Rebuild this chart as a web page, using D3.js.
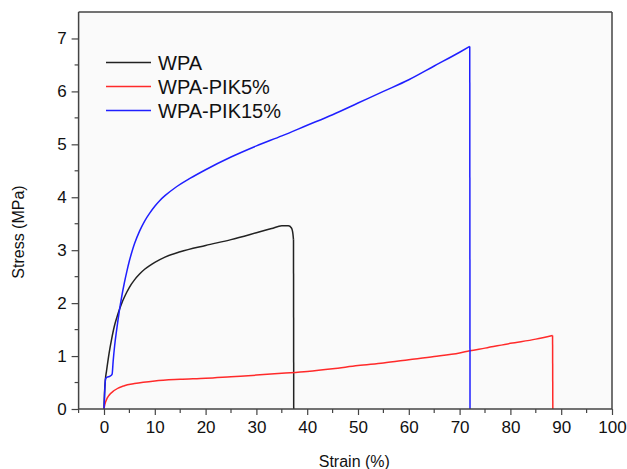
<!DOCTYPE html>
<html>
<head>
<meta charset="utf-8">
<script src="https://cdn.jsdelivr.net/npm/d3@7"></script>
<style>
  html, body { margin: 0; padding: 0; background: #fff; }
  svg text { font-family: "Liberation Sans", Arial, sans-serif; fill: #111; }
</style>
</head>
<body>
<svg id="chart" width="627" height="469"></svg>
<script>
// Stress–strain curves, strain in %, stress in MPa
const wpaStrain = [0, 0.1, 0.3, 0.5, 1.0, 1.5, 2.0, 2.5, 3.0, 3.5, 4.0, 4.5, 5.0, 6.0, 7.0, 8.0, 9.0, 10, 12, 15, 20, 25, 30, 33, 35, 36.3, 36.9, 37.2, 37.3, 37.35];
const wpaStress = [0, 0.3, 0.58, 0.72, 1.05, 1.32, 1.55, 1.72, 1.87, 2.0, 2.11, 2.21, 2.3, 2.44, 2.55, 2.64, 2.71, 2.77, 2.87, 2.97, 3.09, 3.2, 3.33, 3.41, 3.46, 3.46, 3.42, 3.3, 3.2, 0];

const pik5Strain = [0, 0.15, 0.3, 0.6, 1.0, 2.0, 4.0, 6.0, 10, 15, 20, 25, 30, 35, 40, 45, 50, 55, 60, 65, 70, 72, 75, 80, 85, 88.3, 88.35];
const pik5Stress = [0, 0.08, 0.13, 0.2, 0.26, 0.35, 0.44, 0.48, 0.53, 0.56, 0.58, 0.61, 0.64, 0.675, 0.71, 0.76, 0.82, 0.87, 0.93, 0.99, 1.06, 1.1, 1.15, 1.24, 1.32, 1.39, 0];

const pik15Strain = [0, 0.15, 0.3, 0.6, 1.2, 1.6, 1.8, 2.1, 2.5, 3.0, 3.5, 4.0, 4.5, 5.0, 5.5, 6, 7, 8, 9, 10, 11, 12, 14, 17, 20, 25, 30, 35, 40, 45, 50, 55, 60, 65, 70, 72, 72.05];
const pik15Stress = [0, 0.35, 0.57, 0.6, 0.62, 0.66, 0.9, 1.2, 1.5, 1.84, 2.13, 2.38, 2.6, 2.8, 2.97, 3.12, 3.36, 3.55, 3.7, 3.83, 3.94, 4.03, 4.18, 4.36, 4.52, 4.76, 4.97, 5.16, 5.36, 5.56, 5.78, 6.0, 6.22, 6.48, 6.74, 6.85, 0];

const seriesNames = ["WPA", "WPA-PIK5%", "WPA-PIK15%"];
const seriesColors = ["#222222", "#ff2a2a", "#1f1fff"];

const xTicks = [0, 10, 20, 30, 40, 50, 60, 70, 80, 90, 100];
const yTicks = [0, 1, 2, 3, 4, 5, 6, 7];

const svg = d3.select("#chart");
const plotLeft = 78.6, plotRight = 612, plotTop = 12, plotBottom = 409;

const x = d3.scaleLinear().domain([-5, 100]).range([plotLeft, plotRight]);
const y = d3.scaleLinear().domain([0, 7.5]).range([plotBottom, plotTop]);

// plot area background
svg.append("rect")
  .attr("x", plotLeft).attr("y", plotTop)
  .attr("width", plotRight - plotLeft).attr("height", plotBottom - plotTop)
  .attr("fill", "#fafafa");

// curves
const series = [
  { s: wpaStrain, t: wpaStress },
  { s: pik5Strain, t: pik5Stress },
  { s: pik15Strain, t: pik15Stress }
];
const line = d3.line().x(d => x(d[0])).y(d => y(d[1])).curve(d3.curveMonotoneX);
const lineLinear = d3.line().x(d => x(d[0])).y(d => y(d[1]));

series.forEach((d, i) => {
  const pts = d.s.map((v, k) => [v, d.t[k]]);
  // smooth body, straight vertical break at the end
  const body = pts.slice(0, -1);
  const tail = pts.slice(-2);
  svg.append("path").attr("d", line(body))
    .attr("fill", "none").attr("stroke", seriesColors[i]).attr("stroke-width", 1.5);
  svg.append("path").attr("d", lineLinear(tail))
    .attr("fill", "none").attr("stroke", seriesColors[i]).attr("stroke-width", 1.5);
});

// frame: top and right edges
svg.append("line").attr("x1", plotLeft).attr("x2", plotRight).attr("y1", plotTop).attr("y2", plotTop)
  .attr("stroke", "#444").attr("stroke-width", 1.5);
svg.append("line").attr("x1", plotRight).attr("x2", plotRight).attr("y1", plotTop).attr("y2", plotBottom)
  .attr("stroke", "#444").attr("stroke-width", 1.5);

// axes
const xMinor = d3.range(-5, 100.1, 5).filter(v => v % 10 !== 0);
const yMinor = d3.range(0.5, 7.5, 1);

const xAxis = d3.axisBottom(x).tickValues(xTicks).tickSize(6).tickPadding(6).tickFormat(d3.format("d"));
const xg = svg.append("g").attr("transform", `translate(0,${plotBottom})`).call(xAxis);
xg.select(".domain").attr("stroke", "#444").attr("stroke-width", 1.5).attr("d", `M${plotLeft},0H${plotRight}`);
xg.selectAll(".tick line").attr("stroke", "#444").attr("stroke-width", 1.2);
xg.selectAll("text").attr("font-size", 17).attr("fill", "#111");
xg.selectAll(".minor").data(xMinor).enter().append("line")
  .attr("x1", d => x(d)).attr("x2", d => x(d)).attr("y1", 0).attr("y2", 4)
  .attr("stroke", "#444").attr("stroke-width", 1.2);

const yAxis = d3.axisLeft(y).tickValues(yTicks).tickSize(7).tickPadding(5).tickFormat(d3.format("d"));
const yg = svg.append("g").attr("transform", `translate(${plotLeft},0)`).call(yAxis);
yg.select(".domain").attr("stroke", "#444").attr("stroke-width", 1.5).attr("d", `M0,${plotBottom}V${plotTop}`);
yg.selectAll(".tick line").attr("stroke", "#444").attr("stroke-width", 1.2);
yg.selectAll("text").attr("font-size", 17).attr("fill", "#111");
yg.selectAll(".minor").data(yMinor).enter().append("line")
  .attr("y1", d => y(d)).attr("y2", d => y(d)).attr("x1", 0).attr("x2", -4)
  .attr("stroke", "#444").attr("stroke-width", 1.2);

// axis titles
svg.append("text")
  .attr("x", (plotLeft + plotRight) / 2 + 9).attr("y", 467)
  .attr("text-anchor", "middle").attr("font-size", 16)
  .text("Strain (%)");
svg.append("text")
  .attr("transform", "translate(24,232) rotate(-90)")
  .attr("text-anchor", "middle").attr("font-size", 16)
  .text("Stress (MPa)");

// legend
const legend = svg.append("g");
seriesNames.forEach((name, i) => {
  const ly = 62.5 + i * 24;
  legend.append("line").attr("x1", 106).attr("x2", 151).attr("y1", ly).attr("y2", ly)
    .attr("stroke", seriesColors[i]).attr("stroke-width", 1.5);
  legend.append("text").attr("x", 158).attr("y", ly + 7).attr("font-size", 20)
    .text(name);
});
</script>
</body>
</html>
